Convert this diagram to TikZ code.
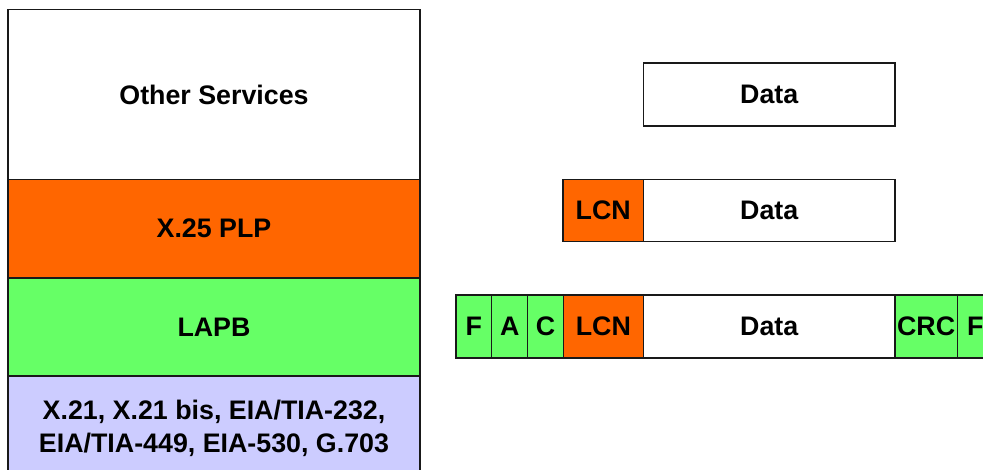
\documentclass[tikz,border=0pt]{standalone}
\usepackage{fontspec}
\setmainfont{Liberation Sans}
\definecolor{plpcol}{HTML}{FF6600}
\definecolor{lapbcol}{HTML}{66FF66}
\definecolor{physcol}{HTML}{CCCCFF}
\begin{document}
\begin{tikzpicture}[x=1pt,y=-1pt,
  box/.style={draw=black!90, line width=1.3pt, inner sep=0pt, outer sep=0pt,
    font=\fontsize{26.8}{33}\selectfont\bfseries, align=center},
  white box/.style={box, fill=white},
  orange box/.style={box, fill=plpcol},
  green box/.style={box, fill=lapbcol},
  phys box/.style={box, fill=physcol},
]
\useasboundingbox (0,0) rectangle (983,470);
\clip (0,0) rectangle (983,470);
% left protocol stack
\node[white box, minimum width=412pt, minimum height=170pt] (other) at (214,94.5) {Other Services};
\node[orange box, minimum width=412pt, minimum height=98.5pt] (plp) at (214,228.75) {X.25 PLP};
\node[green box, minimum width=412pt, minimum height=98pt] (lapb) at (214,327) {LAPB};
\node[phys box, minimum width=412pt, minimum height=104pt] (phys) at (214,428) {X.21, X.21 bis, EIA/TIA-232,\\EIA/TIA-449, EIA-530, G.703};
% row 1
\node[white box, minimum width=251.7pt, minimum height=63pt] (data1) at (769.2,94.5) {Data};
% row 2
\node[orange box, minimum width=80.5pt, minimum height=62pt] (lcn2) at (603.25,210.5) {LCN};
\node[white box, minimum width=251.5pt, minimum height=62pt] (data2) at (769.25,210.5) {Data};
% row 3
\node[green box, minimum width=35.7pt, minimum height=63pt] (f1) at (473.85,326.5) {F};
\node[green box, minimum width=36pt, minimum height=63pt] (a3) at (509.7,326.5) {A};
\node[green box, minimum width=35.6pt, minimum height=63pt] (c3) at (545.5,326.5) {C};
\node[orange box, minimum width=80.2pt, minimum height=63pt] (lcn3) at (603.4,326.5) {LCN};
\node[white box, minimum width=251.5pt, minimum height=63pt] (data3) at (769.25,326.5) {Data};
\node[green box, minimum width=62.3pt, minimum height=63pt] (crc3) at (926.15,326.5) {CRC};
\node[green box, minimum width=36pt, minimum height=63pt] (f2) at (975.3,326.5) {F};
\end{tikzpicture}
\end{document}
